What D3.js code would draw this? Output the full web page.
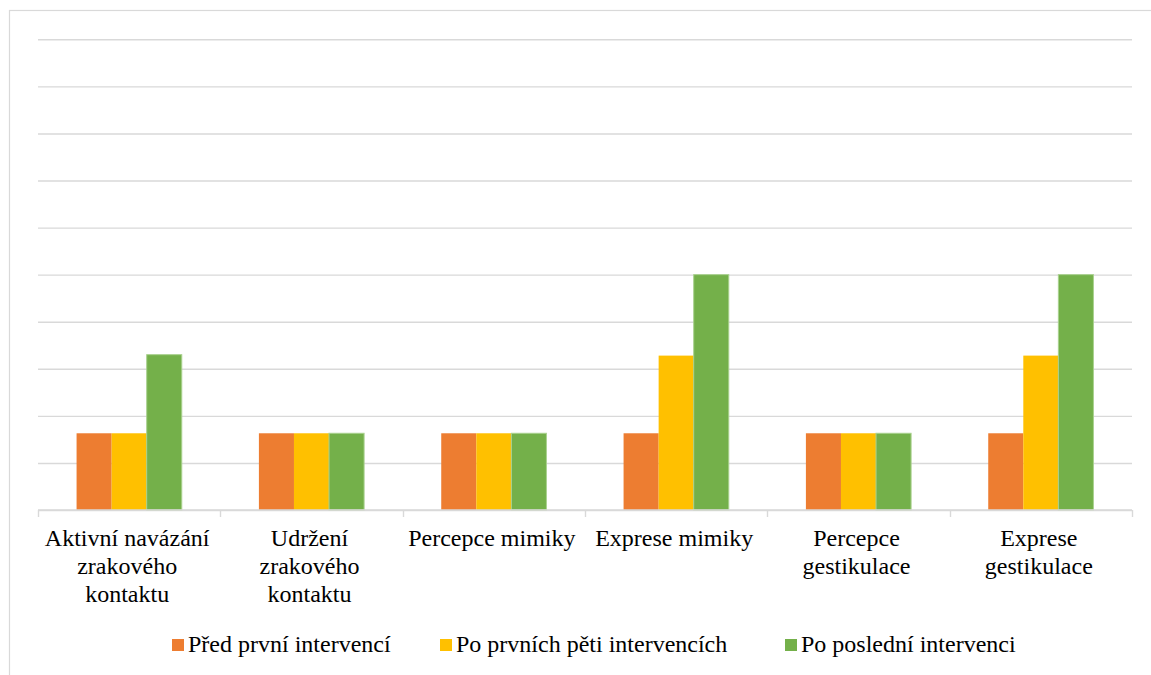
<!DOCTYPE html>
<html>
<head>
<meta charset="utf-8">
<script src="https://cdn.jsdelivr.net/npm/d3@7"></script>
<style>
  html, body { margin: 0; padding: 0; background: #fff; }
  svg { display: block; }
  svg text { font-family: "Liberation Serif", Tinos, "Times New Roman", Times, "DejaVu Serif", serif; fill: #000; }
</style>
</head>
<body>
<script>
// Categories (line breaks mark how the axis labels wrap)
const categories = [
  "Aktivní navázání\nzrakového\nkontaktu",
  "Udržení\nzrakového\nkontaktu",
  "Percepce mimiky",
  "Exprese mimiky",
  "Percepce\ngestikulace",
  "Exprese\ngestikulace"
];

const seriesNames = ["Před první intervencí", "Po prvních pěti intervencích", "Po poslední intervenci"];
const beforeFirst = [1.63, 1.63, 1.63, 1.63, 1.63, 1.63];
const afterFive   = [1.63, 1.63, 1.63, 3.28, 1.63, 3.28];
const afterLast   = [3.30, 1.63, 1.63, 5.00, 1.63, 5.00];
const seriesColors = ["#ED7D31", "#FFC000", "#74B04A"];
const yTicks = [0, 1, 2, 3, 4, 5, 6, 7, 8, 9, 10];

const W = 1151, H = 675;
const plot = { left: 38, right: 1132, top: 39.3, bottom: 510 };
const FONT = '"Liberation Serif", Tinos, "Times New Roman", Times, "DejaVu Serif", serif';

const svg = d3.select("body").append("svg").attr("width", W).attr("height", H);

// Chart area border
svg.append("rect")
  .attr("x", 9.5).attr("y", 10.5)
  .attr("width", W + 20).attr("height", H + 20)
  .attr("fill", "none").attr("stroke", "#d9d9d9").attr("stroke-width", 1.2);

const x = d3.scaleBand().domain(categories).range([plot.left, plot.right]).padding(0);
const xInner = d3.scaleBand().domain(d3.range(3)).range([0, x.bandwidth()])
  .paddingInner(0).paddingOuter(1.1);
const y = d3.scaleLinear().domain([0, 10]).range([plot.bottom, plot.top]);

// Horizontal gridlines
const grid = svg.append("g")
  .attr("transform", `translate(${plot.left},0)`)
  .call(d3.axisLeft(y).tickValues(yTicks).tickSize(-(plot.right - plot.left)).tickFormat(""));
grid.select(".domain").remove();
grid.selectAll(".tick line").attr("stroke", "#d9d9d9").attr("stroke-width", 1.4);

// Bars
const series = [beforeFirst, afterFive, afterLast];
series.forEach((vals, si) => {
  svg.append("g").selectAll("rect")
    .data(vals)
    .join("rect")
    .attr("x", (d, i) => x(categories[i]) + xInner(si))
    .attr("y", d => y(d))
    .attr("width", xInner.bandwidth())
    .attr("height", d => y(0) - y(d))
    .attr("fill", seriesColors[si])
    .attr("stroke", si === 2 ? "#a9d18e" : "none")
    .attr("stroke-width", si === 2 ? 1 : 0);
});

// Category axis: baseline with tick marks at band edges
const axis = svg.append("g");
axis.append("line")
  .attr("x1", plot.left).attr("x2", plot.right)
  .attr("y1", y(0)).attr("y2", y(0))
  .attr("stroke", "#d9d9d9").attr("stroke-width", 1.4);
const edges = categories.map(c => x(c)).concat([x(categories[categories.length - 1]) + x.bandwidth()]);
axis.selectAll("line.tk").data(edges).join("line")
  .attr("class", "tk")
  .attr("x1", d => Math.round(d) + 0.5).attr("x2", d => Math.round(d) + 0.5)
  .attr("y1", y(0)).attr("y2", y(0) + 7)
  .attr("stroke", "#d9d9d9").attr("stroke-width", 1.4);

// Category labels
const labels = svg.append("g").selectAll("text")
  .data(categories)
  .join("text")
  .attr("text-anchor", "middle")
  .attr("font-family", FONT)
  .attr("font-size", 24)
  .attr("transform", c => `translate(${x(c) + x.bandwidth() / 2 - 2},546)`);
labels.each(function (c) {
  d3.select(this).selectAll("tspan")
    .data(c.split("\n"))
    .join("tspan")
    .attr("x", 0)
    .attr("y", (d, i) => i * 28)
    .text(d => d);
});

// Legend
const legendX = [172, 440, 785];
const legend = svg.append("g");
seriesNames.forEach((name, i) => {
  legend.append("rect")
    .attr("x", legendX[i]).attr("y", 639)
    .attr("width", 12).attr("height", 12)
    .attr("fill", seriesColors[i]);
  legend.append("text")
    .attr("x", legendX[i] + 16).attr("y", 652)
    .attr("font-family", FONT)
    .attr("font-size", 24)
    .text(name);
});
</script>
</body>
</html>
